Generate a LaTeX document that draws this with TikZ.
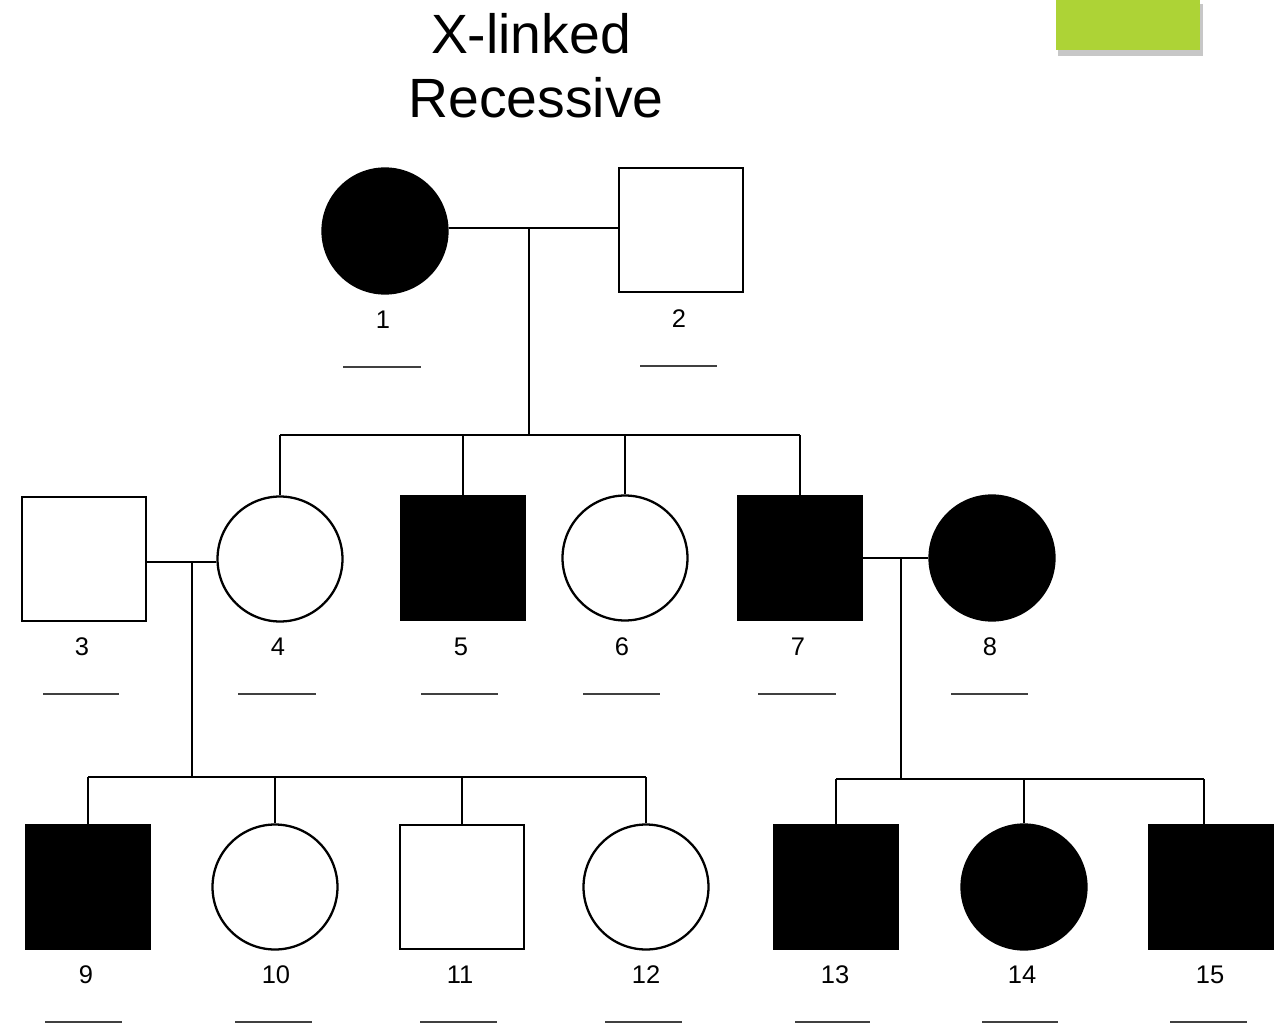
\documentclass[tikz,border=0pt]{standalone}
\usepackage{fontspec}
\setmainfont{Liberation Sans}
\begin{document}
\begin{tikzpicture}[x=0.02cm,y=-0.02cm,
  male/.style={draw=black,line width=1.3pt,minimum size=2.48cm,inner sep=0pt,fill=white},
  female/.style={draw=black,line width=1.3pt,circle,minimum size=2.5cm,inner sep=0pt,fill=white},
  aff/.style={fill=black},
  lbl/.style={font=\fontsize{14.5}{16}\selectfont,inner sep=0pt},
  uline/.style={draw=black!75,line width=1.5pt},
  conn/.style={draw=black,line width=1.1pt},
  title/.style={font=\fontsize{31.5}{36}\selectfont,inner sep=0pt,align=center}]
\useasboundingbox (0,0) rectangle (1281,1024);
% title
\node[title] (t1) at (531,34) {X-linked};
\node[title] (t2) at (536,98) {Recessive};
% green box with shadow
\fill[black!22] (1058,4) rectangle (1203,56);
\node[draw=none,fill={rgb,255:red,173;green,211;blue,54},minimum width=2.88cm,minimum height=1cm,inner sep=0pt,anchor=north west] (gbox) at (1056,0) {};
% generation I
\node[female,aff] (n1) at (385,231) {};
\node[male] (n2) at (681,230) {};
% generation II
\node[male] (n3) at (84,559) {};
\node[female] (n4) at (280,559) {};
\node[male,aff] (n5) at (463,558) {};
\node[female] (n6) at (625,558) {};
\node[male,aff] (n7) at (800,558) {};
\node[female,aff] (n8) at (992,558) {};
% generation III
\node[male,aff] (n9) at (88,887) {};
\node[female] (n10) at (275,887) {};
\node[male] (n11) at (462,887) {};
\node[female] (n12) at (646,887) {};
\node[male,aff] (n13) at (836,887) {};
\node[female,aff] (n14) at (1024,887) {};
\node[male,aff] (n15) at (1211,887) {};
% labels
\foreach \n/\x/\y in {1/383/320,2/679/319,3/82/647,4/278/647,5/461/647,6/622/647,7/798/647,8/990/647,9/86/975,10/276/975,11/460/975,12/646/975,13/835/975,14/1022/975,15/1210/975}{
  \node[lbl] (l\n) at (\x,\y) {\n};
}
% underlines
\foreach \a/\b/\y in {343/421/367,640/717/366,43/119/694,238/316/694,421/498/694,583/660/694,758/836/694,951/1028/694,45/122/1022,235/312/1022,420/497/1022,605/682/1022,795/870/1022,982/1058/1022,1170/1247/1022}{
  \path[uline] (\a,\y) -- (\b,\y);
}
% connectors
\coordinate (m12) at (529,228);
\coordinate (s1) at (529,435);
\path[conn] (n1.east |- m12) -- (n2.west |- m12);
\path[conn] (m12) -- (s1);
\path[conn] (n4.north |- s1) -- (n7.north |- s1);
\foreach \k in {4,5,6,7}{ \path[conn] (n\k.north |- s1) -- (n\k.north); }

\coordinate (m34) at (192,562);
\coordinate (s2) at (192,777);
\path[conn] (n3.east |- m34) -- (n4.west |- m34);
\path[conn] (m34) -- (s2);
\path[conn] (n9.north |- s2) -- (n12.north |- s2);
\foreach \k in {9,10,11,12}{ \path[conn] (n\k.north |- s2) -- (n\k.north); }

\coordinate (m78) at (901,558);
\coordinate (s3) at (901,779);
\coordinate (d15) at (1204,779);
\path[conn] (n7.east |- m78) -- (n8.west |- m78);
\path[conn] (m78) -- (s3);
\path[conn] (n13.north |- s3) -- (d15);
\foreach \k in {13,14}{ \path[conn] (n\k.north |- s3) -- (n\k.north); }
\path[conn] (d15) -- (d15 |- n15.north);
\end{tikzpicture}
\end{document}
